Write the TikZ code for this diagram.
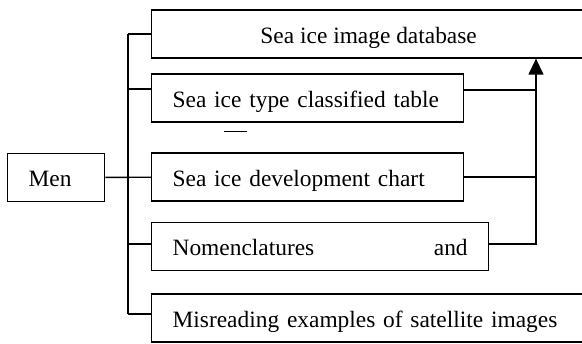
\documentclass[tikz,border=0pt]{standalone}
\usepackage{fontspec}
\setmainfont{Liberation Serif}
\usetikzlibrary{positioning,calc,arrows.meta}

\begin{document}
\begin{tikzpicture}[
    x=1pt, y=-1pt,
    line width=1.3pt,
    box/.style={rectangle, draw, line width=1.3pt, minimum height=48pt, inner ysep=0pt, text height=19pt, text depth=0pt, font=\fontsize{23.4}{26}\selectfont},
    leftbox/.style={box, anchor=west, inner xsep=21pt, align=left},
    link/.style={draw, line width=1.3pt},
    uparrow/.style={link, -{Triangle[width=15pt,length=16pt]}}
]
\useasboundingbox (0,0) rectangle (582,344);

% Root
\node[leftbox, text width=55pt] (men) at (7,177.5) {Men};

% Branches
\node[box, minimum width=434pt, anchor=west] (imgdb) at (151,34) {Sea ice image database};
\node[leftbox, text width=270pt] (typetab) at (151,98) {\mbox{Sea ice type classified table}};
\node[leftbox, text width=270pt] (devchart) at (151,177) {\mbox{Sea ice development chart}};
\node[leftbox, text width=295pt] (nomen) at (151,246.5) {Nomenclatures\hfill and};
\node[leftbox, text width=392pt] (misread) at (151,318) {\mbox{Misreading examples of satellite images}};

% stray mark under the table box
\draw ([xshift=73pt,yshift=-9pt]typetab.south west) -- ++(23,0);

% Trunk
\coordinate (trunk) at (128,0);
\coordinate (merge) at (536,0);
\draw[link] (imgdb.west -| trunk) -- ([yshift=4pt]misread.west -| trunk);
\draw[link] (men) -- (devchart);
\draw[link] (imgdb.west -| trunk) -- (imgdb.west);
\draw[link] ([yshift=9pt]typetab.west -| trunk) -- ([yshift=9pt]typetab.west);
\draw[link] ([yshift=2.5pt]nomen.west -| trunk) -- ([yshift=2.5pt]nomen.west);
\draw[link] ([yshift=4pt]misread.west -| trunk) -- ([yshift=4pt]misread.west);

% Feedback into database
\draw[uparrow] ([yshift=2.5pt]nomen.east) -| (imgdb.south -| merge);
\draw[link] ([yshift=8pt]typetab.east) -- ([yshift=8pt]typetab.east -| merge);
\draw[link] (devchart.east) -- (devchart.east -| merge);

\end{tikzpicture}
\end{document}
